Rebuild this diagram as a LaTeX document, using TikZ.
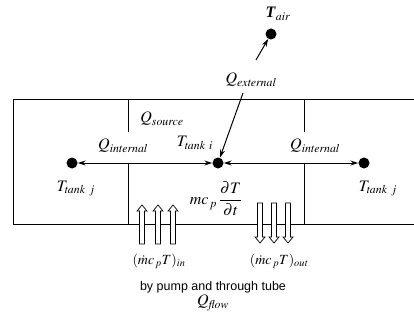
\documentclass[tikz,border=0pt]{standalone}
\usepackage{amsmath}
\usepackage{mathptmx}
\usepackage{fontspec}
\setmainfont{Liberation Serif}
\setsansfont{Liberation Sans}
\usetikzlibrary{arrows.meta, positioning, calc}
\tikzset{
  dot/.style={circle, fill=black, inner sep=0pt, minimum size=11pt},
  lbl/.style={inner sep=1pt, font=\fontsize{16}{18}\selectfont},
  lblS/.style={inner sep=1pt, font=\fontsize{14}{16}\selectfont},
  capt/.style={inner sep=1pt, font=\sffamily\fontsize{12.5}{15}\selectfont},
  wall/.style={line width=1pt, draw=black},
  arw/.style={-{Stealth[length=8pt, width=5pt]}, line width=1pt},
  darw/.style={{Stealth[length=8pt, width=5pt]}-{Stealth[length=8pt, width=5pt]}, line width=1pt},
  flow/.style={draw=black, fill=white, line width=0.7pt}
}

\begin{document}
\begin{tikzpicture}[x=1pt, y=-1pt]
  \useasboundingbox (0,0) rectangle (414,323);

  % ── Tank walls ──
  \draw[wall] (414,100) -- (13,100) -- (13,224) -- (414,224);
  \draw[wall] (128,100) -- (128,132);
  \draw[wall] (304,100) -- (304,132);
  \draw[wall] (128,163) -- (128,224);
  \draw[wall] (304,163) -- (304,224);

  % ── Temperatures ──
  \node[dot] (air) at (271,34) {};
  \node[dot] (tankI) at (218,163) {};
  \node[dot] (tankL) at (72,163) {};
  \node[dot] (tankR) at (364,163) {};
  \node[lbl] (tAir) at (278,14) {\textbf{\textit{T}}$_{\mathit{air}}$};
  \node[lbl] (tI) at (195,143) {$T_{\mathit{tank}\ i}$};
  \node[lbl, below=11pt of tankL, xshift=4pt] (tL) {$T_{\mathit{tank}\ j}$};
  \node[lbl, below=11pt of tankR, xshift=14pt] (tR) {$T_{\mathit{tank}\ j}$};

  % ── Heat flows ──
  \node[lbl] (qExt) at (251,80) {$Q_{\mathit{external}}$};
  \node[lbl] (qSrc) at (162,119) {$Q_{\mathit{source}}$};
  \node[lbl] (qIntL) at (123,146) {$Q_{\mathit{internal}}$};
  \node[lbl] (qIntR) at (315,146) {$Q_{\mathit{internal}}$};
  \coordinate (extUp) at (256,60);
  \coordinate (extDown) at (243,93);
  \draw[arw] (extUp) -- (air);
  \draw[arw] (extDown) -- (tankI);
  \draw[darw] (tankL) -- (tankI);
  \draw[darw] (tankI) -- (tankR);

  % ── Storage term ──
  \node[lbl] (store) at (216,199) {$mc_{\,p}\,\dfrac{\partial T}{\partial t}$};

  % ── Mass flow in / out ──
  \foreach \x in {142,158,173}
    \draw[flow] (\x-2.5,244) -- (\x-2.5,211) -- (\x-5,211) -- (\x,205) -- (\x+5,211) -- (\x+2.5,211) -- (\x+2.5,244) -- cycle;
  \foreach \x in {260,274,288}
    \draw[flow] (\x-2.5,203) -- (\x-2.5,237) -- (\x-5,237) -- (\x,243) -- (\x+5,237) -- (\x+2.5,237) -- (\x+2.5,203) -- cycle;
  \node[lblS] (mIn) at (159,261) {$(\dot m c_{\,p} T)_{\mathit{in}}$};
  \node[lblS] (mOut) at (279,261) {$(\dot m c_{\,p} T)_{\mathit{out}}$};
  \node[capt] (pump) at (213,287) {by pump and through tube};
  \node[lbl, below=0pt of pump] (qFlow) {$Q_{\mathit{flow}}$};
\end{tikzpicture}
\end{document}
